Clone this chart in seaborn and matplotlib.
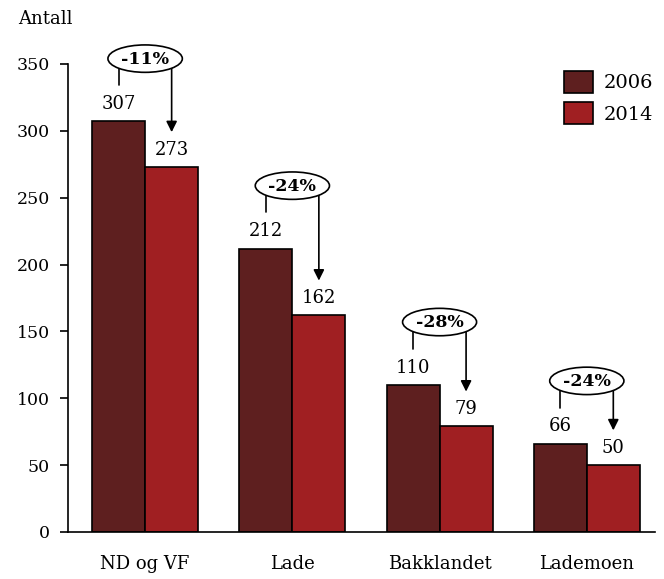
import matplotlib
matplotlib.use("Agg")
import matplotlib.pyplot as plt
from matplotlib.patches import Ellipse
import pandas as pd
import seaborn as sns

# data
omrader = ["ND og VF", "Lade", "Bakklandet", "Lademoen"]
antall_2006 = [307, 212, 110, 66]
antall_2014 = [273, 162, 79, 50]
endring = ["-11%", "-24%", "-28%", "-24%"]
aar = ["2006", "2014"]
farger = ["#5e1f1f", "#a01f22"]

df = pd.DataFrame({
    "omrade": omrader * 2,
    "antall": antall_2006 + antall_2014,
    "aar": [aar[0]] * 4 + [aar[1]] * 4,
})

sns.set_style("white")
plt.rcParams["font.family"] = ["DejaVu Serif"]
plt.rcParams["text.color"] = "black"
plt.rcParams["xtick.color"] = "black"
plt.rcParams["ytick.color"] = "black"

fig = plt.figure(figsize=(6.64, 5.79), dpi=100)
ax = fig.add_axes([0.1024, 0.0812, 0.884, 0.8083])

sns.barplot(data=df, x="omrade", y="antall", hue="aar", order=omrader,
            hue_order=aar, palette=farger, saturation=1, width=0.72,
            edgecolor="black", linewidth=1.2, ax=ax)

ax.set_ylim(0, 350)
ax.set_xlim(-0.524, 3.463)
ax.set_yticks(range(0, 351, 50))
ax.set_xlabel("")
ax.set_ylabel("")
for s in ["top", "right"]:
    ax.spines[s].set_visible(False)
for s in ["left", "bottom"]:
    ax.spines[s].set_color("black")
    ax.spines[s].set_linewidth(1.2)
ax.tick_params(axis="y", left=True, length=6, width=1.2, color="black",
               labelsize=12.5, pad=7)
ax.tick_params(axis="x", bottom=False, labelsize=13, pad=13)

fig.text(0.027, 0.968, "Antall", fontsize=13, ha="left", va="center")

# value labels and change brackets
d = 0.18
pct_texts = []
for i, (a, b, txt) in enumerate(zip(antall_2006, antall_2014, endring)):
    ax.text(i - d, a + 13, str(a), ha="center", va="center", fontsize=13)
    ax.text(i + d, b + 13, str(b), ha="center", va="center", fontsize=13)
    top = a + 47
    ax.plot([i - d, i - d, i + d], [a + 27, top, top], color="black",
            lw=1.2, clip_on=False, zorder=3)
    ax.annotate("", xy=(i + d, b + 26), xytext=(i + d, top),
                arrowprops=dict(arrowstyle="-|>", color="black", lw=1.2,
                                mutation_scale=16, shrinkA=0, shrinkB=0),
                annotation_clip=False, zorder=3)
    t = ax.text(i, top - 0.5, txt, ha="center", va="center", fontsize=12.5,
                fontweight="bold", zorder=5)
    pct_texts.append((i, top, t))

# ellipses sized to the text
fig.canvas.draw()
inv = ax.transData.inverted()
for i, top, t in pct_texts:
    bb = t.get_window_extent()
    x0, _ = inv.transform((bb.x0, bb.y0))
    x1, _ = inv.transform((bb.x1, bb.y1))
    ax.add_patch(Ellipse((i, top), (x1 - x0) * 1.55, 20.5,
                         facecolor="white", edgecolor="black", lw=1.2,
                         clip_on=False, zorder=4))

ax.legend(loc="upper right", bbox_to_anchor=(1.027, 1.023), frameon=False,
          fontsize=14, handlelength=1.5, handleheight=1.4, labelspacing=0.45,
          handletextpad=0.55)

fig.savefig("out.png", dpi=100)
